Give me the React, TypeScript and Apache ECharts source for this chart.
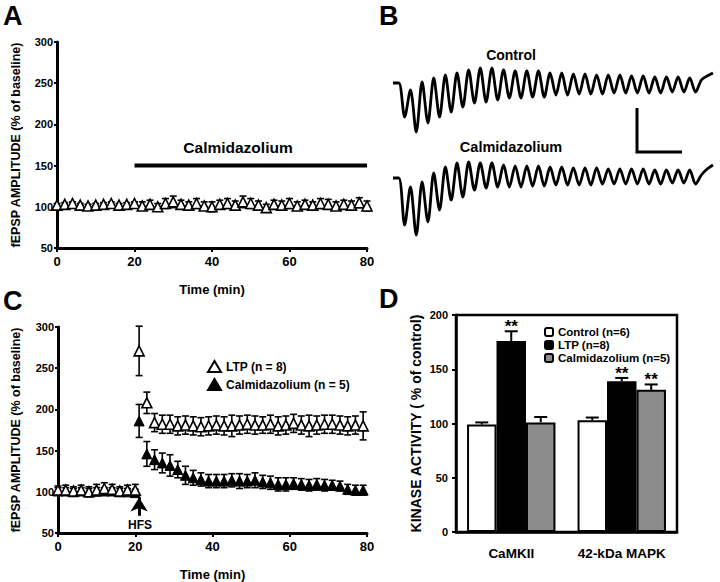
import React, { useEffect, useRef } from 'react';
import * as echarts from 'echarts';

const FONT = '"Liberation Sans", Arial, Helvetica, sans-serif';

// ---------- Panel A ----------
const aTimes = [0, 2, 4, 6, 8, 10, 12, 14, 16, 18, 20, 22, 24, 26, 28, 30, 32, 34, 36, 38, 40, 42, 44, 46, 48, 50, 52, 54, 56, 58, 60, 62, 64, 66, 68, 70, 72, 74, 76, 78, 80];
const aValues = [102, 103, 104, 102, 101, 102, 103, 104, 102, 103, 104, 101, 103, 100, 104, 106, 103, 102, 104, 101, 100, 103, 104, 102, 106, 104, 102, 99, 103, 102, 104, 101, 103, 102, 104, 103, 101, 103, 102, 105, 101];
const aErrors = [2, 2, 2, 2, 2, 2, 2, 2, 2, 2, 2, 5, 5, 4, 6, 7, 5, 4, 6, 5, 6, 5, 6, 5, 7, 6, 5, 4, 5, 5, 6, 5, 5, 4, 6, 6, 5, 5, 5, 6, 6];
const aDrugStart = 20;
const aDrugEnd = 80;
const aDrugLevel = 150;

// ---------- Panel B (traces, arbitrary units) ----------
const controlStart = [0, 0];
const controlTroughs = [-34, -49, -40, -34, -29, -24, -20, -19, -17, -15, -15, -14, -14, -12, -12, -11, -11, -11, -10, -10, -10, -10, -10, -9, -9, -9];
const controlPeaks = [-7, 1, 5, 8, 10, 13, 15, 15, 13, 12, 12, 12, 10, 10, 9, 9, 8, 8, 8, 7, 7, 6, 6, 6, 5];
const controlEnd = [3, 7, 10];
const calmStart = [0, 0];
const calmTroughs = [-47, -57, -44, -32, -22, -19, -12, -10, -9, -9, -9, -8, -8, -7, -7, -7, -7, -6, -6, -6, -6, -6, -6, -5, -5, -6];
const calmPeaks = [-9, -4, 5, 11, 15, 16, 15, 15, 13, 12, 12, 12, 11, 11, 10, 10, 10, 9, 9, 9, 9, 8, 8, 8, 8];
const calmEnd = [3, 9, 13];

// ---------- Panel C ----------
const cTimes = [0, 2, 4, 6, 8, 10, 12, 14, 16, 18, 20, 21, 23, 25, 27, 29, 31, 33, 35, 37, 39, 41, 43, 45, 47, 49, 51, 53, 55, 57, 59, 61, 63, 65, 67, 69, 71, 73, 75, 77, 79];
const ltpValues = [102, 102, 101, 102, 100, 102, 104, 103, 101, 102, 102, 271, 208, 184, 182, 182, 180, 181, 180, 179, 180, 181, 180, 180, 181, 182, 181, 181, 182, 180, 181, 183, 181, 180, 181, 182, 182, 181, 180, 181, 180];
const ltpErrors = [5, 6, 5, 6, 6, 7, 7, 6, 5, 6, 7, 30, 13, 11, 11, 11, 11, 11, 11, 11, 11, 11, 11, 13, 11, 11, 11, 10, 11, 11, 11, 11, 11, 13, 11, 11, 11, 11, 11, 11, 17];
const calmValues = [101, 101, 100, 101, 100, 101, 101, 101, 100, 100, 99, 186, 146, 139, 135, 132, 127, 120, 117, 115, 113, 113, 113, 114, 113, 113, 114, 112, 111, 109, 109, 110, 109, 108, 109, 108, 108, 107, 103, 102, 102];
const calmErrors = [4, 4, 4, 4, 4, 4, 4, 4, 4, 4, 4, 20, 15, 12, 12, 13, 10, 11, 9, 8, 8, 8, 8, 8, 9, 8, 9, 8, 8, 8, 8, 7, 7, 7, 7, 7, 6, 6, 6, 6, 6];
const hfsTime = 21;

// ---------- Panel D ----------
const dCategories = ['CaMKII', '42-kDa MAPK'];
const dControl = [99, 103];
const dControlErr = [2, 2.5];
const dLTP = [176, 139];
const dLTPErr = [9, 3];
const dCalm = [101, 131];
const dCalmErr = [5, 5];
const dLTPSig = ['**', '**'];
const dCalmSig = ['', '**'];

function weave(start: number[], troughs: number[], peaks: number[], end: number[]) {
  const out = [...start];
  troughs.forEach((t, i) => {
    out.push(t);
    if (i < peaks.length) out.push(peaks[i]);
  });
  return out.concat(end);
}

const errRender = (capHalf: number) => (params: any, api: any) => {
  const x = api.value(0);
  const y = api.value(1);
  const e = api.value(2);
  const top = api.coord([x, y + e]);
  const bot = api.coord([x, y - e]);
  const st = { stroke: '#000', lineWidth: 1.6 };
  return {
    type: 'group',
    children: [
      { type: 'line', shape: { x1: top[0], y1: top[1], x2: bot[0], y2: bot[1] }, style: st },
      { type: 'line', shape: { x1: top[0] - capHalf, y1: top[1], x2: top[0] + capHalf, y2: top[1] }, style: st },
      { type: 'line', shape: { x1: bot[0] - capHalf, y1: bot[1], x2: bot[0] + capHalf, y2: bot[1] }, style: st },
    ],
  };
};

const barErrRender = (params: any, api: any) => {
  const cat = api.value(0);
  const v = api.value(1);
  const e = api.value(2);
  const idx = api.value(3);
  const sig = api.value(4);
  const base = api.coord([cat, v]);
  const top = api.coord([cat, v + e]);
  const band = api.size([1, 0])[0];
  const bw = (band * 0.8) / 3;
  const xc = base[0] + (idx - 1) * bw;
  const st = { stroke: '#000', lineWidth: 2 };
  const children: any[] = [
    { type: 'line', shape: { x1: xc, y1: base[1], x2: xc, y2: top[1] }, style: st },
    { type: 'line', shape: { x1: xc - 6.5, y1: top[1], x2: xc + 6.5, y2: top[1] }, style: st },
  ];
  if (sig) {
    children.push({
      type: 'text',
      x: xc,
      y: top[1] - 13,
      style: { text: String(sig), fontFamily: FONT, fontWeight: 'bold', fontSize: 17, fill: '#000', align: 'center', verticalAlign: 'top' },
    });
  }
  return { type: 'group', children };
};

const axisLabel = (size: number, margin: number) => ({
  fontFamily: FONT,
  fontWeight: 'bold',
  fontSize: size,
  color: '#000',
  margin,
});
const axisLine = (w: number) => ({ show: true, onZero: false, lineStyle: { color: '#000', width: w } });
const axisTick = (len: number) => ({ show: true, inside: false, length: len, lineStyle: { color: '#000', width: 2 } });
const nameStyle = (size: number) => ({ fontFamily: FONT, fontWeight: 'bold', fontSize: size, color: '#000' });

export default function App() {
  const ref = useRef<HTMLDivElement>(null);
  useEffect(() => {
    if (!ref.current) return;
    const chart = echarts.init(ref.current, undefined, { renderer: 'svg' });
    const controlTrace = weave(controlStart, controlTroughs, controlPeaks, controlEnd);
    const calmTrace = weave(calmStart, calmTroughs, calmPeaks, calmEnd);

    const aPts = aTimes.map((t, i) => [t, aValues[i]]);
    const aErr = aTimes.map((t, i) => [t, aValues[i], aErrors[i]]);
    const ltpPts = cTimes.map((t, i) => [t, ltpValues[i]]);
    const ltpErr = cTimes.map((t, i) => [t, ltpValues[i], ltpErrors[i]]);
    const calmPts = cTimes.map((t, i) => [t, calmValues[i]]);
    const calmErr = cTimes.map((t, i) => [t, calmValues[i], calmErrors[i]]);
    const dErr: any[] = [];
    dCategories.forEach((_, i) => {
      dErr.push([i, dControl[i], dControlErr[i], 0, '']);
      dErr.push([i, dLTP[i], dLTPErr[i], 1, dLTPSig[i]]);
      dErr.push([i, dCalm[i], dCalmErr[i], 2, dCalmSig[i]]);
    });

    const openTri = { color: '#fff', borderColor: '#000', borderWidth: 1.6, opacity: 1 };
    const fillTri = { color: '#000', borderColor: '#000', borderWidth: 1, opacity: 1 };

    const option: any = {
      animation: false,
      backgroundColor: '#fff',
      textStyle: { fontFamily: FONT },
      grid: [
        { left: 57, top: 42, width: 310, height: 206 },
        { left: 393, top: 60, width: 320, height: 80 },
        { left: 393, top: 150, width: 320, height: 95 },
        { left: 58, top: 327, width: 309, height: 207 },
        { left: 456, top: 315, width: 221, height: 217, show: true, borderColor: '#000', borderWidth: 2.5, backgroundColor: 'transparent' },
      ],
      xAxis: [
        {
          gridIndex: 0, type: 'value', min: 0, max: 80, interval: 20,
          axisLine: axisLine(3), axisTick: axisTick(4), splitLine: { show: false },
          axisLabel: axisLabel(13, 7),
          name: 'Time (min)', nameLocation: 'middle', nameGap: 35, nameTextStyle: nameStyle(13),
        },
        { gridIndex: 1, type: 'category', show: false, boundaryGap: false, data: controlTrace.map((_, i) => i) },
        { gridIndex: 2, type: 'category', show: false, boundaryGap: false, data: calmTrace.map((_, i) => i) },
        {
          gridIndex: 3, type: 'value', min: 0, max: 80, interval: 20,
          axisLine: axisLine(3), axisTick: axisTick(4), splitLine: { show: false },
          axisLabel: axisLabel(13, 7),
          name: 'Time (min)', nameLocation: 'middle', nameGap: 35, nameTextStyle: nameStyle(13),
        },
        {
          gridIndex: 4, type: 'category', data: dCategories,
          axisLine: axisLine(2.5), axisTick: { show: false }, splitLine: { show: false },
          axisLabel: { ...axisLabel(13.5, 14), interval: 0 },
        },
      ],
      yAxis: [
        {
          gridIndex: 0, type: 'value', min: 50, max: 300, interval: 50,
          axisLine: axisLine(3), axisTick: axisTick(3), splitLine: { show: false },
          axisLabel: axisLabel(11, 4),
          name: 'fEPSP AMPLITUDE (% of baseline)', nameLocation: 'middle', nameGap: 35, nameTextStyle: nameStyle(12.5),
        },
        { gridIndex: 1, type: 'value', show: false, min: -57, max: 23, splitLine: { show: false } },
        { gridIndex: 2, type: 'value', show: false, min: -67, max: 28, splitLine: { show: false } },
        {
          gridIndex: 3, type: 'value', min: 50, max: 300, interval: 50,
          axisLine: axisLine(3), axisTick: axisTick(3), splitLine: { show: false },
          axisLabel: axisLabel(11, 4),
          name: 'fEPSP AMPLITUDE (% of baseline)', nameLocation: 'middle', nameGap: 36, nameTextStyle: nameStyle(12.5),
        },
        {
          gridIndex: 4, type: 'value', min: 0, max: 200, interval: 50,
          axisLine: axisLine(2.5), axisTick: axisTick(4), splitLine: { show: false },
          axisLabel: axisLabel(11, 8),
          name: 'KINASE ACTIVITY ( % of control)', nameLocation: 'middle', nameGap: 33, nameTextStyle: nameStyle(14),
        },
      ],
      legend: [
        {
          data: ['LTP (n = 8)', 'Calmidazolium (n = 5)'],
          orient: 'vertical', left: 202, top: 355, itemWidth: 13, itemHeight: 11, itemGap: 5,
          textStyle: { fontFamily: FONT, fontWeight: 'bold', fontSize: 12, color: '#000' },
          selectedMode: false,
        },
        {
          data: ['Control (n=6)', 'LTP (n=8)', 'Calmidazolium (n=5)'],
          orient: 'vertical', left: 539, top: 321, itemWidth: 8, itemHeight: 8, itemGap: 1,
          textStyle: { fontFamily: FONT, fontWeight: 'bold', fontSize: 11.5, color: '#000' },
          selectedMode: false,
        },
      ],
      series: [
        { type: 'custom', xAxisIndex: 0, yAxisIndex: 0, data: aErr, renderItem: errRender(3.5), encode: { x: 0, y: 1 }, z: 2, clip: false, silent: true },
        {
          name: 'A data', type: 'scatter', xAxisIndex: 0, yAxisIndex: 0, data: aPts, symbol: 'triangle', symbolSize: 10,
          itemStyle: openTri, z: 3,
        },
        {
          name: 'A drug', type: 'line', xAxisIndex: 0, yAxisIndex: 0, data: [[aDrugStart, aDrugLevel], [aDrugEnd, aDrugLevel]],
          showSymbol: false, symbol: 'none', lineStyle: { color: '#000', width: 4 }, z: 3,
        },
        {
          name: 'Control trace', type: 'line', xAxisIndex: 1, yAxisIndex: 1, data: controlTrace, showSymbol: false, symbol: 'none',
          smooth: 0.3, lineStyle: { color: '#000', width: 2.8, join: 'round' },
        },
        {
          name: 'Calm trace', type: 'line', xAxisIndex: 2, yAxisIndex: 2, data: calmTrace, showSymbol: false, symbol: 'none',
          smooth: 0.3, lineStyle: { color: '#000', width: 2.8, join: 'round' },
        },
        { type: 'custom', xAxisIndex: 3, yAxisIndex: 3, data: calmErr, renderItem: errRender(3.5), encode: { x: 0, y: 1 }, z: 2, clip: false, silent: true },
        {
          name: 'Calmidazolium (n = 5)', type: 'scatter', xAxisIndex: 3, yAxisIndex: 3, data: calmPts, symbol: 'triangle', symbolSize: 10,
          itemStyle: fillTri, z: 3,
          markLine: {
            silent: true, symbol: ['none', 'arrow'], symbolSize: [13, 14],
            lineStyle: { color: '#000', width: 3, type: 'solid', opacity: 1 }, label: { show: false },
            data: [[{ coord: [hfsTime, 71] }, { coord: [hfsTime, 93] }]],
          },
        },
        { type: 'custom', xAxisIndex: 3, yAxisIndex: 3, data: ltpErr, renderItem: errRender(3.5), encode: { x: 0, y: 1 }, z: 4, clip: false, silent: true },
        {
          name: 'LTP (n = 8)', type: 'scatter', xAxisIndex: 3, yAxisIndex: 3, data: ltpPts, symbol: 'triangle', symbolSize: 10,
          itemStyle: openTri, z: 5,
        },
        {
          name: 'Control (n=6)', type: 'bar', xAxisIndex: 4, yAxisIndex: 4, data: dControl, barGap: '0%', barCategoryGap: '20%',
          itemStyle: { color: '#fff', borderColor: '#000', borderWidth: 2 },
        },
        {
          name: 'LTP (n=8)', type: 'bar', xAxisIndex: 4, yAxisIndex: 4, data: dLTP, barGap: '0%', barCategoryGap: '20%',
          itemStyle: { color: '#000', borderColor: '#000', borderWidth: 2 },
        },
        {
          name: 'Calmidazolium (n=5)', type: 'bar', xAxisIndex: 4, yAxisIndex: 4, data: dCalm, barGap: '0%', barCategoryGap: '20%',
          itemStyle: { color: '#8c8c8c', borderColor: '#000', borderWidth: 2 },
        },
        { type: 'custom', xAxisIndex: 4, yAxisIndex: 4, data: dErr, renderItem: barErrRender, encode: { x: 0, y: 1 }, z: 5, clip: false, silent: true },
      ],
      graphic: [
        { type: 'text', left: 3, top: 2, style: { text: 'A', fontFamily: FONT, fontWeight: 'bold', fontSize: 27, fill: '#000' } },
        { type: 'text', left: 379, top: 2, style: { text: 'B', fontFamily: FONT, fontWeight: 'bold', fontSize: 27, fill: '#000' } },
        { type: 'text', left: 3, top: 287, style: { text: 'C', fontFamily: FONT, fontWeight: 'bold', fontSize: 27, fill: '#000' } },
        { type: 'text', left: 379, top: 285, style: { text: 'D', fontFamily: FONT, fontWeight: 'bold', fontSize: 27, fill: '#000' } },
        { type: 'text', x: 238, y: 147, style: { text: 'Calmidazolium', fontFamily: FONT, fontWeight: 'bold', fontSize: 15.5, fill: '#000', align: 'center', verticalAlign: 'middle' } },
        { type: 'text', x: 511, y: 55, style: { text: 'Control', fontFamily: FONT, fontWeight: 'bold', fontSize: 14, fill: '#000', align: 'center', verticalAlign: 'middle' } },
        { type: 'text', x: 511, y: 147, style: { text: 'Calmidazolium', fontFamily: FONT, fontWeight: 'bold', fontSize: 14.5, fill: '#000', align: 'center', verticalAlign: 'middle' } },
        { type: 'text', x: 140, y: 525, style: { text: 'HFS', fontFamily: FONT, fontWeight: 'bold', fontSize: 12, fill: '#000', align: 'center', verticalAlign: 'middle' } },
        { type: 'polyline', shape: { points: [[637, 108], [637, 152], [682, 152]] }, style: { stroke: '#000', lineWidth: 3, fill: null } },
      ],
    };
    chart.setOption(option);
    return () => chart.dispose();
  }, []);
  return <div ref={ref} style={{ position: 'fixed', left: 0, top: 0, width: 720, height: 582, background: '#fff' }} />;
}
